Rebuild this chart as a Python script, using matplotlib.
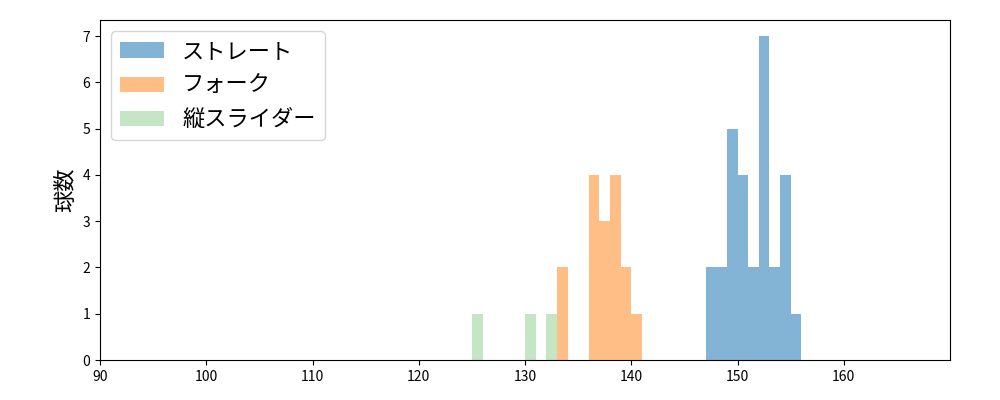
import matplotlib
matplotlib.use('Agg')
import matplotlib.pyplot as plt

plt.rcParams['font.family'] = ['Noto Sans CJK JP', 'DejaVu Sans']

# bin left edges (km/h) and counts
straight_bins = [147, 148, 149, 150, 151, 152, 153, 154, 155]
straight_counts = [2, 2, 5, 4, 2, 7, 2, 4, 1]
fork_bins = [133, 136, 137, 138, 139, 140]
fork_counts = [2, 4, 3, 4, 2, 1]
slider_bins = [125, 130, 132]
slider_counts = [1, 1, 1]

fig, ax = plt.subplots(figsize=(10, 4), dpi=100)
ax.bar(straight_bins, straight_counts, width=1, align='edge', color='tab:blue', alpha=0.55, label='ストレート')
ax.bar(fork_bins, fork_counts, width=1, align='edge', color='tab:orange', alpha=0.5, label='フォーク')
ax.bar(slider_bins, slider_counts, width=1, align='edge', color='tab:green', alpha=0.27, label='縦スライダー')

ax.set_xlim(90, 170)
ax.set_xticks(range(90, 170, 10))
ax.set_ylim(0, 7.35)
ax.set_ylabel('球数', fontsize=16)
ax.legend(loc='upper left', fontsize=16)
plt.subplots_adjust(left=0.1, right=0.95, top=0.95, bottom=0.1)
plt.savefig('out.png')
